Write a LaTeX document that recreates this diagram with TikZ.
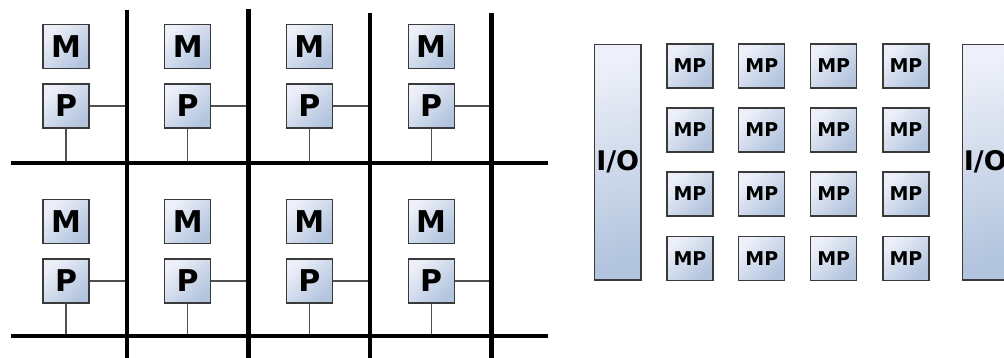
\documentclass[tikz,border=0pt]{standalone}
\usepackage{fontspec}
\setmainfont{DejaVu Sans}
\definecolor{boxtop}{HTML}{EDF0F8}
\definecolor{boxbot}{HTML}{B2C4DE}
\definecolor{boxline}{HTML}{3A3A3A}
\definecolor{wirecol}{HTML}{505050}
\begin{document}
\begin{tikzpicture}[x=1pt,y=-1pt,
  box/.style={draw=boxline, line width=1.1pt, top color=boxtop, bottom color=boxbot, shading angle=45,
    minimum width=46pt, minimum height=44pt, inner sep=0pt, font=\bfseries\fontsize{30}{30}\selectfont},
  mpbox/.style={box, font=\bfseries\fontsize{19}{19}\selectfont},
  iobox/.style={draw=boxline, line width=1.1pt, top color=boxtop, bottom color=boxbot, shading angle=15,
    minimum width=46.5pt, minimum height=235.5pt, inner sep=0pt, font=\bfseries\fontsize{27}{27}\selectfont},
  bus/.style={line width=4.5pt, black},
  wire/.style={line width=1.1pt, wirecol}]
\useasboundingbox (0,0) rectangle (1004,358);
\clip (0,0) rectangle (1004,358);
% bus coordinates
\coordinate (h1a) at (11,163);
\coordinate (h1b) at (548,163);
\coordinate (h2a) at (11,336);
\coordinate (h2b) at (548,336);
\coordinate (v0t) at (127,10);   \coordinate (v0b) at (127,360);
\coordinate (v1t) at (248.5,9);  \coordinate (v1b) at (248.5,360);
\coordinate (v2t) at (370,13);   \coordinate (v2b) at (370,360);
\coordinate (v3t) at (491.5,13); \coordinate (v3b) at (491.5,360);
% M and P nodes
\foreach \i in {0,...,3} {
  \pgfmathsetmacro\cx{66+121.7*\i}
  \node[box] (M1\i) at (\cx,46.5) {M};
  \node[box] (P1\i) at (\cx,106) {P};
  \node[box] (M2\i) at (\cx,221.5) {M};
  \node[box] (P2\i) at (\cx,281) {P};
  \draw[wire] (P1\i.east) -- (P1\i.east -| v\i t);
  \draw[wire] (P1\i.south) -- (P1\i.south |- h1a);
  \draw[wire] (P2\i.east) -- (P2\i.east -| v\i t);
  \draw[wire] (P2\i.south) -- (P2\i.south |- h2a);
}
\draw[bus] (h1a) -- (h1b);
\draw[bus] (h2a) -- (h2b);
\foreach \i in {0,...,3} {
  \draw[bus] (v\i t) -- (v\i b);
}
% right part
\node[iobox] (IOL) at (617.7,162.2) {I/O};
\node[iobox] (IOR) at (985.3,162.2) {I/O};
\foreach \c/\x in {1/690,2/761.8,3/833.7,4/906} {
  \foreach \r/\y in {1/66,2/130,3/194,4/258.3} {
    \node[mpbox] (MP\r\c) at (\x,\y) {MP};
  }
}
\end{tikzpicture}
\end{document}
